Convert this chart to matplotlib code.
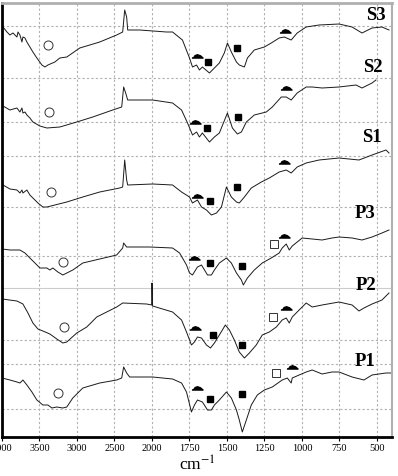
import numpy as np
import matplotlib
matplotlib.use("Agg")
import matplotlib.pyplot as plt

plt.rcParams['font.family'] = ['Liberation Serif', 'DejaVu Serif']
plt.rcParams['mathtext.fontset'] = 'stix'

# spectra: (wavenumber cm-1, offset transmittance in a.u., top = 3, bottom = 437)
s3_wn = [3987, 3934, 3894, 3854, 3801, 3787, 3761, 3734, 3721, 3694, 3668, 3628, 3588, 3535, 3468, 3428,
         3388, 3295, 3229, 3136, 2963, 2697, 2471, 2391, 2364, 2338, 2324, 2165, 1903, 1863, 1797, 1750,
         1730, 1703, 1684, 1664, 1617, 1584, 1551, 1518, 1497, 1471, 1437, 1418, 1384, 1364, 1318, 1251,
         1205, 1152, 1118, 1072, 1032, 972, 886, 753, 666, 600, 533, 467, 420]
s3_t = [27, 32, 35, 33, 37, 32, 35, 42, 37, 38, 42, 47, 52, 58, 65, 67,
        65, 62, 58, 57, 48, 42, 35, 32, 10, 17, 30, 30, 32, 32, 40, 58,
        67, 65, 70, 67, 73, 68, 63, 53, 43, 52, 62, 65, 67, 58, 50, 47,
        43, 38, 37, 40, 33, 27, 25, 24, 27, 33, 28, 27, 30]

s2_wn = [3987, 3894, 3801, 3761, 3734, 3721, 3694, 3668, 3628, 3588, 3495, 3402, 3229, 3003, 2790, 2524,
         2404, 2378, 2351, 2324, 1996, 1863, 1803, 1763, 1730, 1703, 1684, 1664, 1617, 1584, 1551, 1497,
         1464, 1431, 1404, 1371, 1318, 1238, 1198, 1138, 1105, 1072, 1032, 972, 932, 866, 753, 640,
         600, 533, 507]
s2_t = [106, 110, 108, 112, 108, 113, 112, 115, 118, 122, 126, 128, 127, 122, 117, 110,
        107, 87, 93, 100, 100, 103, 110, 123, 135, 132, 137, 133, 142, 137, 133, 113,
        128, 134, 132, 122, 115, 112, 107, 97, 97, 100, 93, 87, 87, 88, 87, 85,
        88, 83, 80]

s1_wn = [3987, 3894, 3801, 3761, 3734, 3721, 3668, 3628, 3588, 3521, 3455, 3402, 3136, 2923, 2697, 2431,
         2391, 2364, 2338, 2324, 1996, 1863, 1803, 1750, 1730, 1697, 1670, 1637, 1604, 1570, 1537, 1504,
         1471, 1437, 1418, 1384, 1338, 1271, 1218, 1152, 1105, 1072, 1032, 972, 886, 753, 620, 533,
         440, 420]
s1_t = [185, 189, 190, 193, 190, 193, 190, 195, 198, 203, 207, 207, 202, 197, 192, 188,
        187, 160, 180, 185, 184, 185, 192, 197, 203, 200, 207, 210, 215, 213, 207, 187,
        197, 202, 203, 197, 188, 182, 178, 172, 170, 173, 167, 163, 160, 158, 160, 155,
        150, 153]

p3_wn = [4000, 3894, 3761, 3694, 3628, 3561, 3495, 3402, 3362, 3322, 3255, 3189, 3056, 2923, 2697, 2471,
         2391, 2378, 2338, 2258, 2032, 1863, 1816, 1770, 1750, 1730, 1697, 1670, 1650, 1630, 1604, 1584,
         1551, 1504, 1471, 1437, 1404, 1391, 1364, 1318, 1265, 1205, 1152, 1132, 1105, 1085, 1065, 999,
         932, 866, 800, 753, 666, 600, 533, 467, 420]
p3_t = [249, 250, 250, 253, 258, 263, 268, 268, 270, 268, 272, 275, 270, 263, 259, 255,
        248, 243, 247, 247, 247, 248, 253, 265, 273, 275, 267, 265, 270, 275, 275, 270,
        263, 258, 263, 273, 280, 285, 278, 270, 263, 258, 253, 248, 244, 250, 246, 238,
        239, 240, 238, 237, 238, 240, 237, 233, 230]

p2_wn = [4000, 3801, 3721, 3654, 3588, 3521, 3455, 3362, 3269, 3189, 3136, 3003, 2870, 2803, 2737, 2471,
         2391, 2072, 2005, 2000, 1996, 1863, 1803, 1770, 1737, 1717, 1697, 1670, 1637, 1610, 1584, 1551,
         1511, 1484, 1451, 1418, 1384, 1351, 1305, 1265, 1218, 1171, 1132, 1105, 1085, 1065, 1019, 972,
         932, 866, 753, 666, 620, 587, 533, 467, 420]
p2_t = [299, 301, 304, 313, 323, 329, 331, 334, 339, 343, 342, 333, 327, 322, 317, 307,
        303, 304, 305, 283, 306, 312, 320, 332, 345, 342, 337, 338, 345, 348, 343, 335,
        325, 330, 340, 352, 358, 353, 345, 335, 332, 327, 320, 318, 323, 317, 310, 303,
        307, 305, 302, 305, 311, 308, 304, 300, 293]

p1_wn = [4000, 3894, 3801, 3761, 3721, 3668, 3601, 3535, 3455, 3388, 3335, 3269, 3189, 3136, 3056, 2923,
         2697, 2471, 2404, 2378, 2338, 2298, 1996, 1863, 1803, 1770, 1737, 1717, 1697, 1664, 1630, 1604,
         1584, 1551, 1504, 1471, 1437, 1418, 1398, 1371, 1338, 1298, 1251, 1198, 1132, 1098, 1072, 1065,
         1019, 972, 932, 866, 800, 753, 666, 587, 533, 440, 407]
p1_t = [378, 380, 382, 383, 380, 385, 392, 400, 405, 405, 408, 407, 408, 407, 398, 388,
        383, 380, 378, 367, 373, 377, 377, 379, 383, 392, 412, 405, 400, 402, 410, 410,
        405, 400, 392, 398, 410, 420, 432, 420, 405, 395, 390, 387, 380, 378, 383, 378,
        375, 372, 370, 374, 372, 372, 377, 380, 375, 373, 373]

names = ['S3', 'S2', 'S1', 'P3', 'P2', 'P1']
label_wn = [440, 460, 467, 507, 507, 507]
label_t = [15, 67, 138, 213, 285, 361]

# band markers (wavenumber, t) per spectrum
circle_wn = [3388, 3375, 3348, 3189, 3176, 3255]
circle_t = [45, 112, 192, 262, 327, 393]
tri_wn = [1703, 1710, 1703, 1723, 1710, 1703, 1112, 1105, 1118, 1118, 1105, 1065]
tri_t = [57, 123, 197, 259, 329, 389, 32, 89, 163, 237, 309, 368]
sq_wn = [1624, 1630, 1610, 1610, 1590, 1610, 1431, 1424, 1431, 1398, 1398, 1398]
sq_t = [62, 128, 201, 263, 335, 399, 48, 117, 187, 266, 345, 394]
osq_wn = [1185, 1191, 1171]
osq_t = [244, 317, 373]

xticks = [4000, 3500, 3000, 2500, 2000, 1750, 1500, 1250, 1000, 750, 500]
hgrid = [26, 78, 122, 156, 207, 256, 340, 364, 409]
hsolid = [288]


def fwd(w):
    w = np.asarray(w, dtype=float)
    return np.where(w > 2000, 2000 + (w - 2000) / 2.0, w)


def inv(u):
    u = np.asarray(u, dtype=float)
    return np.where(u > 2000, 2000 + (u - 2000) * 2.0, u)


fig = plt.figure(figsize=(3.98, 4.76), dpi=100)
ax = fig.add_axes([2 / 398, 1 - 437 / 476, 390 / 398, 434 / 476])
ax.set_xscale('function', functions=(fwd, inv))
ax.set_xlim(4000, 400)
ax.set_ylim(437, 3)

for g in xticks[1:]:
    ax.axvline(g, color='#b0b0b0', lw=0.8, ls=(0, (2, 2)), zorder=0)
for g in hgrid:
    ax.axhline(g, color='#b0b0b0', lw=0.8, ls=(0, (2, 2)), zorder=0)
for g in hsolid:
    ax.axhline(g, color='#cccccc', lw=0.8, zorder=0)

spectra = [(s3_wn, s3_t), (s2_wn, s2_t), (s1_wn, s1_t), (p3_wn, p3_t), (p2_wn, p2_t), (p1_wn, p1_t)]
for wn, t in spectra:
    ax.plot(wn, t, color='#1a1a1a', lw=0.7)

for n, lx, ly in zip(names, label_wn, label_t):
    ax.text(lx, ly, n, ha='right', va='center', fontsize=13.5, fontweight='bold')

tri = [(-1, -0.1), (1, -0.1), (0.55, 0.3), (0, 0.5), (-0.55, 0.3)]
ax.plot(circle_wn, circle_t, 'o', mfc='white', mec='#333333', ms=6.5, mew=0.7, ls='none')
ax.plot(tri_wn, tri_t, marker=tri, color='black', ms=8, ls='none')
ax.plot(sq_wn, sq_t, 's', color='black', ms=4.5, ls='none')
ax.plot(osq_wn, osq_t, 's', mfc='white', mec='#333333', ms=5.5, mew=0.7, ls='none')

ax.set_xticks(xticks)
ax.set_xticklabels([str(v) for v in xticks])
ax.xaxis.set_minor_locator(matplotlib.ticker.NullLocator())
ax.tick_params(axis='x', direction='out', length=3, width=0.8, labelsize=7.5, pad=2)
ax.set_yticks([])
ax.set_xlabel('cm$^{-1}$', fontsize=12.5, labelpad=2)

ax.spines['left'].set_linewidth(2)
ax.spines['bottom'].set_linewidth(2)
ax.spines['top'].set_color('#b0b0b0')
ax.spines['top'].set_linewidth(2)
ax.spines['right'].set_color('#b0b0b0')
ax.spines['right'].set_linewidth(1.5)

fig.savefig('out.png', dpi=100)
